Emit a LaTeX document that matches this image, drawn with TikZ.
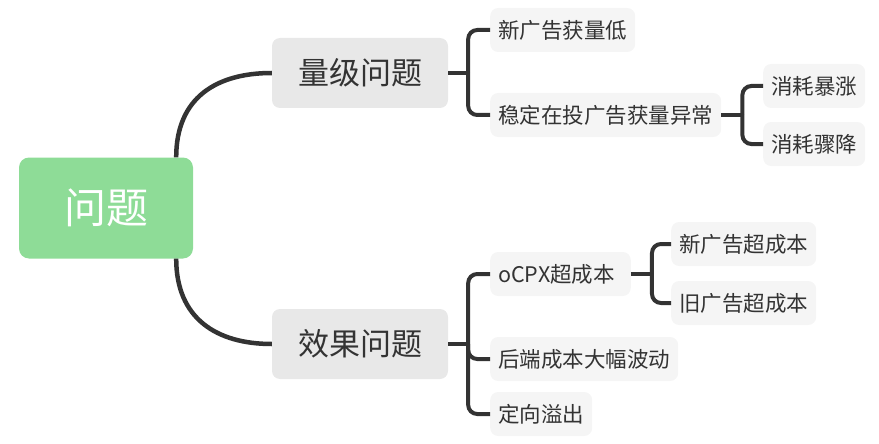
\documentclass[tikz,border=0pt]{standalone}
\usepackage{fontspec}
\setmainfont{Noto Sans CJK SC}
\usetikzlibrary{positioning,calc}
\definecolor{rootgreen}{RGB}{142,220,151}
\definecolor{topgray}{RGB}{232,232,232}
\definecolor{subgray}{RGB}{245,245,245}
\definecolor{ink}{RGB}{51,51,51}

\begin{document}
\begin{tikzpicture}[x=1pt,y=-1pt,
	root/.style={rounded corners=10pt,fill=rootgreen,text=white,minimum width=174pt,minimum height=101pt,font=\fontsize{42}{42}\selectfont},
	topic/.style={rounded corners=8pt,fill=topgray,text=ink,minimum width=176pt,minimum height=70pt,font=\fontsize{31}{31}\selectfont},
	sub/.style={rounded corners=8pt,fill=subgray,text=ink,anchor=west,inner xsep=8pt,minimum height=44pt,font=\fontsize{21.5}{21.5}\selectfont},
	link/.style={draw=ink,line width=4pt},
	bracket/.style={link,rounded corners=9pt}]
					\useasboundingbox (0,0) rectangle (879,444);
					
					\node (0) at (106,208) [root] {问题};
					\node (1) at (360,73) [topic] {量级问题};
					\node (2) at (360,344) [topic] {效果问题};
					
					\node (11) at (490,30) [sub] {新广告获量低};
					\node (12) at (490,115) [sub] {稳定在投广告获量异常};
					\node (121) at (763,86) [sub] {消耗暴涨};
					\node (122) at (763,144) [sub] {消耗骤降};
					
					\node (21) at (490,274) [sub,minimum width=140pt,align=left] {oCPX超成本\hspace*{8pt}};
					\node (211) at (671,244) [sub] {新广告超成本};
					\node (212) at (671,303) [sub] {旧广告超成本};
					\node (22) at (490,359) [sub] {后端成本大幅波动};
					\node (23) at (490,414) [sub] {定向溢出};
					
					\draw[link,line width=4.5pt] ([xshift=-17pt]0.north east) .. controls +(0,-60) and +(-55,0) .. (1.west);
					\draw[link,line width=4.5pt] ([xshift=-17pt]0.south east) .. controls +(0,60) and +(-55,0) .. (2.west);
					
					\coordinate (b1) at ([xshift=20pt]1.east);
					\coordinate (b12) at ([xshift=21pt]12.east);
					\coordinate (b2) at ([xshift=20pt]2.east);
					\coordinate (b21) at ([xshift=21pt]21.east);
					
					\draw[link] (1.east) -- (b1);
					\draw[bracket] (b1) |- (11.west);
					\draw[bracket] (b1) |- (12.west);
					
					\draw[link] (12.east) -- (b12);
					\draw[bracket] (b12) |- (121.west);
					\draw[bracket] (b12) |- (122.west);
					
					\draw[link] (2.east) -- (b2);
					\draw[bracket] (b2) |- (21.west);
					\draw[bracket] (b2) |- (22.west);
					\draw[bracket] (b2) |- (23.west);
					
					\draw[link] (21.east) -- (b21);
					\draw[bracket] (b21) |- (211.west);
					\draw[bracket] (b21) |- (212.west);
				\end{tikzpicture}
\end{document}
